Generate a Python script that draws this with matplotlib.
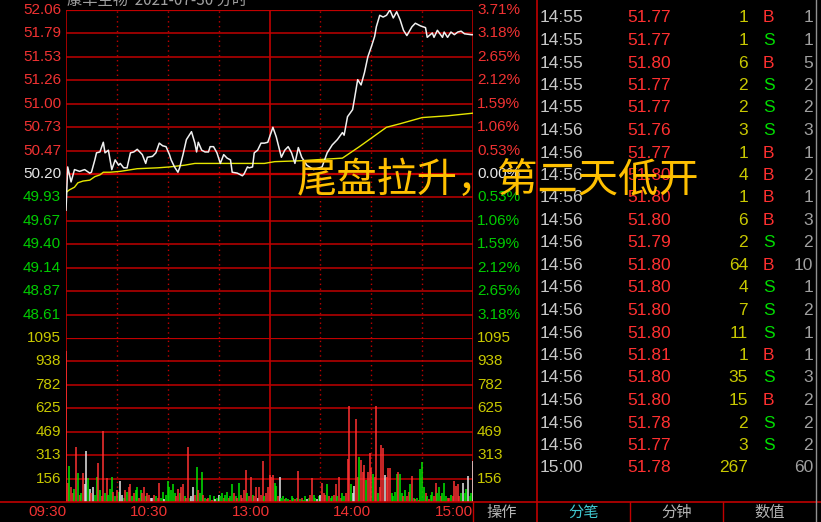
import matplotlib
matplotlib.use("Agg")
import matplotlib.pyplot as plt
from matplotlib.lines import Line2D
import numpy as np

# ---------------- data ----------------
pre_close = 50.20
price_labels = ["52.06", "51.79", "51.53", "51.26", "51.00", "50.73", "50.47", "50.20",
                "49.93", "49.67", "49.40", "49.14", "48.87", "48.61"]
pct_labels = ["3.71%", "3.18%", "2.65%", "2.12%", "1.59%", "1.06%", "0.53%", "0.00%",
              "0.53%", "1.06%", "1.59%", "2.12%", "2.65%", "3.18%"]
vol_labels = ["1095", "938", "782", "625", "469", "313", "156"]
time_labels = ["09:30", "10:30", "13:00", "14:00", "15:00"]
time_label_minutes = [0, 60, 120, 180, 240]

price_minutes = [0, 1, 3, 5, 8, 11, 14, 15, 17, 18, 20, 22, 23, 25, 27, 29, 31, 32, 34, 36,
                 38, 40, 42, 45, 47, 48, 51, 53, 55, 57, 59, 61, 62, 64, 66, 67, 69, 71, 74, 76,
                 77, 78, 80, 82, 84, 85, 87, 89, 91, 93, 95, 97, 98, 101, 103, 104, 105, 107, 108, 110,
                 111, 113, 115, 117, 119, 122, 124, 127, 129, 131, 133, 135, 137, 139, 142, 146, 151, 154, 157, 160,
                 163, 164, 166, 169, 170, 172, 174, 176, 178, 180, 182, 183, 185, 187, 189, 191, 193, 195, 197, 199,
                 201, 204, 206, 209, 212, 213, 216, 217, 219, 222, 223, 225, 227, 229, 231, 233, 235, 239, 240]
price_values = [49.79, 50.28, 50.11, 50.25, 50.23, 50.25, 50.21, 50.22, 50.36, 50.44, 50.45, 50.56, 50.44, 50.47, 50.25, 50.36, 50.30, 50.32, 50.27, 50.27,
                50.44, 50.45, 50.48, 50.42, 50.32, 50.39, 50.40, 50.44, 50.55, 50.52, 50.51, 50.42, 50.36, 50.28, 50.22, 50.27, 50.42, 50.59, 50.68, 50.55,
                50.45, 50.56, 50.47, 50.45, 50.45, 50.51, 50.51, 50.44, 50.32, 50.42, 50.38, 50.36, 50.22, 50.21, 50.19, 50.18, 50.20, 50.28, 50.27, 50.28,
                50.44, 50.47, 50.55, 50.55, 50.56, 50.73, 50.62, 50.39, 50.47, 50.51, 50.44, 50.32, 50.50, 50.39, 50.30, 50.25, 50.28, 50.44, 50.53, 50.59,
                50.67, 50.64, 50.85, 50.93, 51.04, 51.27, 51.21, 51.35, 51.53, 51.64, 51.76, 51.87, 52.00, 51.98, 52.00, 52.06, 51.97, 52.04, 51.95, 51.83,
                51.77, 51.87, 51.91, 51.88, 51.86, 51.75, 51.80, 51.75, 51.83, 51.75, 51.81, 51.75, 51.81, 51.78, 51.81, 51.82, 51.79, 51.78, 51.78]

avg_minutes = [0, 2, 5, 7, 10, 14, 17, 20, 22, 26, 32, 42, 54, 61, 70, 76, 117, 123, 138, 163,
               173, 181, 189, 197, 210, 225, 240]
avg_values = [49.99, 50.02, 50.05, 50.10, 50.12, 50.13, 50.17, 50.19, 50.22, 50.22, 50.23, 50.26, 50.27, 50.28, 50.30, 50.32, 50.32, 50.34, 50.35, 50.38,
              50.51, 50.62, 50.73, 50.77, 50.84, 50.86, 50.89]

volume = [1010, 127, 240, 100, 60, 90, 367, 194, 50, 60,
          194, 120, 340, 160, 90, 60, 100, 50, 167, 260,
          80, 40, 474, 60, 160, 50, 90, 167, 70, 40,
          80, 70, 140, 50, 30, 80, 70, 100, 120, 40,
          60, 80, 100, 30, 80, 60, 100, 40, 60, 50,
          30, 30, 50, 40, 30, 130, 30, 70, 20, 50,
          140, 100, 80, 120, 60, 40, 90, 60, 100, 120,
          40, 30, 367, 30, 40, 100, 50, 234, 80, 60,
          200, 50, 30, 20, 25, 50, 15, 40, 20, 30,
          50, 40, 60, 25, 50, 70, 30, 40, 120, 60,
          40, 30, 130, 50, 30, 80, 214, 60, 40, 170,
          50, 40, 100, 30, 100, 50, 274, 40, 60, 100,
          180, 170, 180, 130, 110, 40, 170, 30, 40, 20,
          30, 20, 15, 40, 30, 20, 30, 207, 20, 30,
          15, 40, 20, 30, 50, 160, 50, 30, 20, 40,
          50, 130, 60, 50, 120, 40, 25, 40, 50, 120,
          40, 170, 30, 60, 40, 60, 287, 641, 120, 60,
          110, 554, 170, 300, 280, 200, 247, 150, 200, 327,
          230, 190, 170, 641, 60, 100, 380, 360, 180, 170,
          230, 230, 60, 40, 70, 190, 200, 190, 60, 40,
          80, 40, 70, 120, 175, 30, 20, 30, 15, 220,
          267, 100, 60, 40, 20, 50, 70, 40, 130, 60,
          100, 40, 60, 130, 40, 25, 25, 50, 40, 140,
          110, 120, 40, 60, 130, 60, 90, 176, 40, 60,
          274]
vol_dir = ("rrgrrgrgrg" "rwwgwrwggr" "grrgrgggrg" "rgwwgrgrrg" "rggrgrrgrr"
           "wwrgrrggwg" "gggggrrgrr" "grrgwwrgrg" "grgrrgrgwg" "wggrggrggr"
           "grgrrrrgrr" "grrwrrrgrr" "rrrggrwggr" "ggrggrgrgr" "ggwgrrggwg"
           "wrrrgrggrr" "grrggrrrgw" "wrrgrrrgrr" "rgrrgrrrwr" "rrggggrggr"
           "grrgrgrgrg" "ggrgrggrrg" "grgggrrgrr" "rrrgwggwgg" "w")

tick_times = ["14:55", "14:55", "14:55", "14:55", "14:55", "14:55", "14:56", "14:56", "14:56", "14:56",
              "14:56", "14:56", "14:56", "14:56", "14:56", "14:56", "14:56", "14:56", "14:56", "14:56",
              "14:56", "15:00"]
tick_prices = ["51.77", "51.77", "51.77", "51.80", "51.77", "51.77", "51.76", "51.77", "51.80", "51.80",
               "51.80", "51.79", "51.80", "51.80", "51.80", "51.80", "51.81", "51.80", "51.80", "51.78",
               "51.77", "51.78"]
tick_vols = ["1", "1", "1", "6", "2", "2", "3", "1", "4", "1",
             "6", "2", "64", "4", "7", "11", "1", "35", "15", "2",
             "3", "267"]
tick_sides = ["S", "B", "S", "B", "S", "S", "S", "B", "B", "B",
              "B", "S", "B", "S", "S", "S", "B", "S", "B", "S",
              "S", ""]
tick_counts = ["1", "1", "1", "5", "2", "2", "3", "1", "2", "1",
               "3", "2", "10", "1", "2", "1", "1", "3", "2", "2",
               "2", "60"]

title_text = "康华生物  2021-07-30 分时"
overlay_text = "尾盘拉升，第二天低开"
tabs = ["分笔", "分钟", "数值"]

# ---------------- style ----------------
BG = "black"
GRID = "#C00000"
RED = "#F03232"
GREEN = "#00CC00"
WHITE = "#E6E6E6"
YEL = "#C8C800"
GRAY = "#C8C8C8"
CJK = ["Noto Sans CJK SC", "DejaVu Sans"]
NUM = "Liberation Sans"

W, H = 821, 522
fig = plt.figure(figsize=(W / 100, H / 100), dpi=100, facecolor=BG)


def fx(x):
    return x / W


def fy(y):
    return 1 - y / H


def fline(x1, y1, x2, y2, color=GRID, lw=1.0, **kw):
    fig.add_artist(Line2D([fx(x1), fx(x2)], [fy(y1), fy(y2)], color=color, lw=lw,
                          transform=fig.transFigure, **kw))


L, R, T, MID, B = 66, 473, 10, 338, 502
ax = fig.add_axes([fx(L), fy(MID), (R - L) / W, (MID - T) / H])
axv = fig.add_axes([fx(L), fy(B), (R - L) / W, (B - MID) / H])
for a in (ax, axv):
    a.set_facecolor(BG)
    a.set_xlim(0, 240)
    for s in a.spines.values():
        s.set_visible(False)
    a.set_xticks([])
    a.set_yticks([])

top_p = float(price_labels[0])
step_p = (top_p - pre_close) / 7
ax.set_ylim(pre_close - 7 * step_p, top_p)
levels = [pre_close + k * step_p for k in range(7, -7, -1)]
for k, lv in enumerate(levels):
    ax.axhline(lv, color=GRID, lw=1.6 if k in (0, 7) else 1.1, zorder=1)

vmax = float(vol_labels[0])
axv.set_ylim(0, vmax)
vlevels = [vmax * (7 - k) / 7 for k in range(7)]
for k, lv in enumerate(vlevels):
    axv.axhline(lv, color=GRID, lw=1.6 if k == 0 else 1.1, zorder=1)

for a in (ax, axv):
    for m in range(0, 241, 30):
        if m in (0, 120, 240):
            a.axvline(m, color=GRID, lw=1.2, zorder=1)
        else:
            a.axvline(m, color=GRID, lw=1.0, ls=(0, (1, 2.5)), zorder=1)

# price and average lines
ax.plot(avg_minutes, avg_values, color="#E6E600", lw=1.0, zorder=3)
ax.plot(price_minutes, price_values, color="#F0F0F0", lw=1.1, zorder=4)

# volume bars
cmap = {"r": "#FF3232", "g": "#00E600", "w": "#E6E6E6"}
axv.vlines(np.arange(len(volume)), 0, volume, colors=[cmap[c] for c in vol_dir],
           lw=1.1, zorder=3)

# axis labels
ytr = ax.get_yaxis_transform()
for k, (lv, pl, cl) in enumerate(zip(levels, price_labels, pct_labels)):
    col = RED if k < 7 else (WHITE if k == 7 else GREEN)
    ax.text(-5 / (R - L), lv, pl, transform=ytr, ha="right", va="center",
            color=col, fontsize=11, family=NUM, clip_on=False)
    ax.text(1 + 4 / (R - L), lv, cl, transform=ytr, ha="left", va="center",
            color=col, fontsize=11, family=NUM, clip_on=False, zorder=2)
vtr = axv.get_yaxis_transform()
for lv, vl in zip(vlevels, vol_labels):
    axv.text(-5 / (R - L), lv, vl, transform=vtr, ha="right", va="center",
             color=YEL, fontsize=11, family=NUM, clip_on=False)
    axv.text(1 + 4 / (R - L), lv, vl, transform=vtr, ha="left", va="center",
             color=YEL, fontsize=11, family=NUM, clip_on=False)

xtr = axv.get_xaxis_transform()
for m, tl in zip(time_label_minutes, time_labels):
    axv.text(m, -10 / (B - MID), tl, transform=xtr, ha="right", va="center",
             color=RED, fontsize=11, family=NUM, clip_on=False)

# frame lines outside the plot
fline(0, B, W, B, lw=1.2)
fline(R, B, R, H)
fline(537, 0, 537, H, lw=1.2)
fline(816, 0, 816, H, lw=1.0, color="#909090")
fline(630, B, 630, H)
fline(723, B, 723, H)

# title (clipped at the top)
fig.text(fx(67), fy(5), title_text, color="#A0A0A0", fontsize=11, family=CJK,
         ha="left", va="baseline")

# bottom tabs
fig.text(fx(502), fy(512), "操作", color="#B4B4B4", fontsize=11, family=CJK,
         ha="center", va="center")
for xc, t, c in zip([584, 677, 770], tabs, ["#40C8D0", "#B4B4B4", "#B4B4B4"]):
    fig.text(fx(xc), fy(512), t, color=c, fontsize=11, family=CJK,
             ha="center", va="center")

# right tick list
y0, dy = 18 - 22.5, 22.5
for i, (tt, tp, tv, ts, tc) in enumerate(zip(tick_times, tick_prices, tick_vols,
                                            tick_sides, tick_counts)):
    yy = fy(y0 + dy * i)
    kw = dict(fontsize=12.5, family=NUM, va="center")
    fig.text(fx(540), yy, tt, color=GRAY, ha="left", **kw)
    fig.text(fx(627), yy, tp, color="#FF3030", ha="left", **kw)
    fig.text(fx(748), yy, tv, color=YEL, ha="right", **kw)
    fig.text(fx(763), yy, ts, color="#FF3030" if ts == "B" else "#00DD00", ha="left", **kw)
    fig.text(fx(813), yy, tc, color="#A0A0A0", ha="right", **kw)

# overlay annotation
fig.text(fx(297), fy(180), overlay_text, color="#FFC000", fontsize=29, family=CJK,
         ha="left", va="center", zorder=20)

fig.savefig("out.png", dpi=100, facecolor=BG)
